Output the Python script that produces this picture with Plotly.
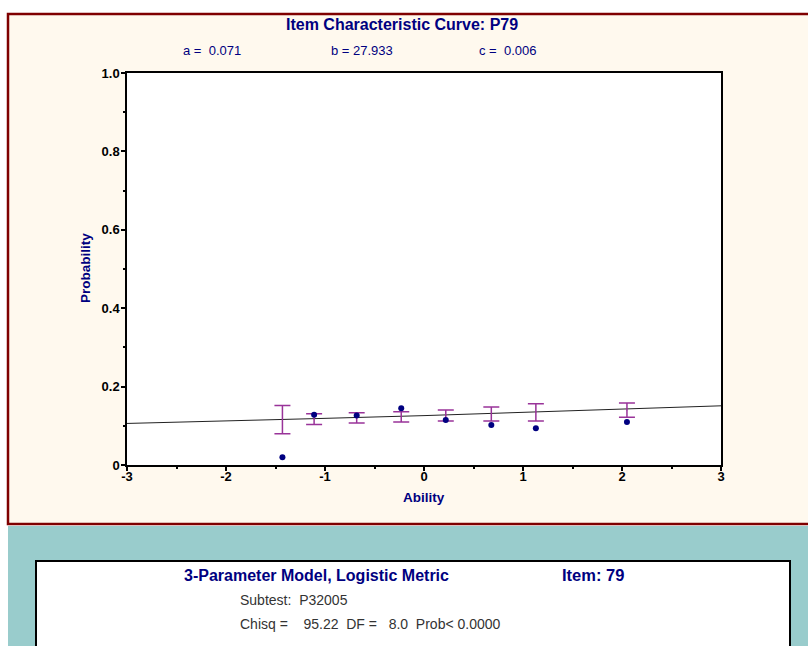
import plotly.graph_objects as go

# ---- data ----
theta_curve = [-3, -2, -1, 0, 1, 2, 3]
p_curve = [0.106, 0.112, 0.119, 0.126, 0.134, 0.142, 0.151]

theta_obs = [-1.43, -1.11, -0.68, -0.23, 0.22, 0.68, 1.13, 2.05]
p_obs = [0.020, 0.128, 0.126, 0.145, 0.115, 0.102, 0.094, 0.110]
ci_upper = [0.152, 0.131, 0.133, 0.136, 0.140, 0.148, 0.156, 0.158]
ci_lower = [0.080, 0.103, 0.107, 0.110, 0.112, 0.112, 0.112, 0.122]

x_ticks = [-3, -2, -1, 0, 1, 2, 3]
x_ticktext = ["-3", "-2", "-1", "0", "1", "2", "3"]
y_ticks = [0, 0.2, 0.4, 0.6, 0.8, 1.0]
y_ticktext = ["0", "0.2", "0.4", "0.6", "0.8", "1.0"]

title = "Item Characteristic Curve: P79"
params = ["a =  0.071", "b = 27.933", "c =  0.006"]
model_text = "3-Parameter Model, Logistic Metric"
item_text = "Item: 79"
subtest_text = "Subtest:  P32005"
chisq_text = "Chisq =    95.22  DF =   8.0  Prob< 0.0000"

# ---- layout geometry (pixels) ----
W, H = 808, 646
PL, PR, PT, PB = 127, 721, 73, 465
pw, ph = PR - PL, PB - PT


def px(x):
    return (x - PL) / pw


def py(y):
    return (PB - y) / ph


NAVY = "#000080"
FONT = "Liberation Sans Narrow, Arial Narrow, Liberation Sans, Arial, sans-serif"

center = [(u + l) / 2 for u, l in zip(ci_upper, ci_lower)]
half = [(u - l) / 2 for u, l in zip(ci_upper, ci_lower)]

fig = go.Figure()
fig.add_trace(go.Scatter(x=theta_curve, y=p_curve, mode="lines",
                         line=dict(color="#222222", width=1), hoverinfo="skip"))
fig.add_trace(go.Scatter(x=theta_obs, y=center, mode="markers",
                         marker=dict(size=1, color="#993399"),
                         error_y=dict(type="data", array=half, visible=True,
                                      color="#993399", thickness=1.5, width=8)))
fig.add_trace(go.Scatter(x=theta_obs, y=p_obs, mode="markers",
                         marker=dict(size=6, color=NAVY)))

shapes = [
    dict(type="rect", xref="paper", yref="paper", layer="below",
         x0=px(8), x1=px(830), y0=py(524), y1=py(14),
         fillcolor="#FFF9EE", line=dict(color="#7F0000", width=2.5)),
    dict(type="rect", xref="paper", yref="paper", layer="below",
         x0=0, x1=1, y0=0, y1=1, fillcolor="white", line=dict(width=0)),
    dict(type="rect", xref="paper", yref="paper", layer="below",
         x0=px(8), x1=px(830), y0=py(680), y1=py(526),
         fillcolor="#99CCCC", line=dict(width=0)),
    dict(type="rect", xref="paper", yref="paper", layer="below",
         x0=px(36), x1=px(790), y0=py(700), y1=py(561),
         fillcolor="white", line=dict(color="black", width=2)),
]


def nb(s):
    return s.replace(" ", "\u00a0")


def ann(text, x, y, size, color=NAVY, bold=True, xanchor="center", angle=0):
    return dict(text=nb(text), x=px(x), y=py(y), xref="paper", yref="paper",
                xanchor=xanchor, yanchor="middle", showarrow=False, textangle=angle,
                font=dict(family=FONT, size=size, color=color,
                          weight="bold" if bold else "normal"))


annotations = [
    ann(title, 402, 24, 16),
    ann("Probability", 85, 268, 13.5, angle=-90),
    ann("Ability", 424, 497, 13.5),
    ann(model_text, 316, 575, 16),
    ann(item_text, 593, 575, 16.5),
    ann(subtest_text, 238, 600, 14, color="#333333", bold=False, xanchor="left"),
    ann(chisq_text, 238, 624, 14, color="#333333", bold=False, xanchor="left"),
]
for t, cx in zip(params, [212, 362, 507]):
    annotations.append(ann(t, cx, 50, 13, bold=False))

axis_common = dict(showgrid=False, zeroline=False, showline=True, mirror=True,
                   linecolor="black", linewidth=1.5, ticks="outside", ticklen=4,
                   tickcolor="black", tickwidth=1.5,
                   tickfont=dict(family=FONT, size=13, color="black", weight="bold"))

fig.update_layout(
    width=W, height=H,
    margin=dict(l=PL, r=W - PR, t=PT, b=H - PB, pad=0),
    paper_bgcolor="white", plot_bgcolor="white",
    showlegend=False,
    shapes=shapes, annotations=annotations,
    font=dict(family=FONT),
    xaxis=dict(range=[-3, 3], tickvals=x_ticks, ticktext=x_ticktext,
               ticklabelstandoff=-5,
               minor=dict(dtick=0.5, ticks="outside", ticklen=2, tickcolor="black",
                          showgrid=False),
               **axis_common),
    yaxis=dict(range=[0, 1], tickvals=y_ticks, ticktext=y_ticktext,
               ticklabelstandoff=-1,
               minor=dict(dtick=0.1, ticks="outside", ticklen=2, tickcolor="black",
                          showgrid=False),
               **axis_common),
)

fig.write_html("out.html")
